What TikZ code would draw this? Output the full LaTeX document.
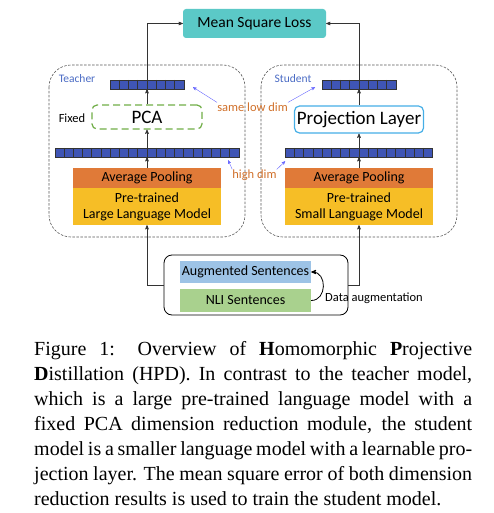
\documentclass[tikz,border=0pt]{standalone}
\usepackage{fontspec}
\setmainfont{Liberation Serif}
\newfontfamily\diagfont{Carlito}
\usetikzlibrary{arrows}

\definecolor{losscol}{HTML}{5BC9C7}
\definecolor{poolcol}{HTML}{E07A38}
\definecolor{lmcol}{HTML}{F6BE26}
\definecolor{augcol}{HTML}{9DC3E6}
\definecolor{nlicol}{HTML}{A9D18E}
\definecolor{pcacol}{HTML}{70AD47}
\definecolor{projcol}{HTML}{45AEE6}
\definecolor{rolecol}{HTML}{4A6BC4}
\definecolor{dimcol}{HTML}{D0702A}
\definecolor{cellcol}{HTML}{3F55B5}

\begin{document}
\begin{tikzpicture}[
    x = 1pt, y = -1pt,
    >=stealth',
    every node/.style = {inner sep = 0pt, font = \diagfont},
    block/.style = {minimum width = 148pt, align = center, font = \diagfont\fontsize{14}{16}\selectfont},
    vecbox/.style = {draw = black!80, fill = cellcol, minimum height = 9pt},
    container/.style = {draw = black!65, semithick, dash pattern = on 2.5pt off 1.5pt, rounded corners = 22pt},
    link/.style = {->, semithick, black!80},
    note/.style = {->, blue!60, thin},
    dimtext/.style = {text = dimcol, font = \diagfont\fontsize{12.5}{14}\selectfont}]

\useasboundingbox (0,0) rectangle (494,513);

\draw[container] (49,65) rectangle (245,237);
\draw[container] (261,65) rectangle (457,237);

\node[text = rolecol, font = \diagfont\fontsize{11.5}{13}\selectfont] (teacher) at (77,79) {Teacher};
\node[text = rolecol, font = \diagfont\fontsize{11.5}{13}\selectfont] (student) at (293,79) {Student};

\node[fill = losscol, rounded corners = 3pt, minimum width = 143pt, minimum height = 29pt,
      font = \diagfont\fontsize{15.5}{18}\selectfont] (loss) at (254.5,23.5) {Mean Square Loss};

% Vectors
\node[vecbox, minimum width = 73.6pt] (tlow) at (147,84.5) {};
\node[vecbox, minimum width = 73.6pt] (slow) at (359,84.5) {};
\node[vecbox, minimum width = 184pt] (thigh) at (147,152.5) {};
\node[vecbox, minimum width = 147.2pt] (shigh) at (359,152.5) {};

\foreach \i in {1,...,7} {
  \draw[black!80] ([xshift = \i*9.2pt]tlow.north west) -- ([xshift = \i*9.2pt]tlow.south west);
  \draw[black!80] ([xshift = \i*9.2pt]slow.north west) -- ([xshift = \i*9.2pt]slow.south west);
}
\foreach \i in {1,...,19}
  \draw[black!80] ([xshift = \i*9.2pt]thigh.north west) -- ([xshift = \i*9.2pt]thigh.south west);
\foreach \i in {1,...,15}
  \draw[black!80] ([xshift = \i*9.2pt]shigh.north west) -- ([xshift = \i*9.2pt]shigh.south west);

% Reduction modules
\node[draw = pcacol, very thick, dashed, dash pattern = on 7pt off 4pt, rounded corners = 5pt,
      minimum width = 110pt, minimum height = 24pt,
      font = \diagfont\fontsize{19}{22}\selectfont] (pca) at (147,117) {PCA};
\node[font = \diagfont\fontsize{12.5}{14}\selectfont] (fixed) at (72,118) {Fixed};
\node[draw = projcol, very thick, rounded corners = 5pt, minimum width = 129pt, minimum height = 27pt,
      font = \diagfont\fontsize{19}{22}\selectfont] (proj) at (359,119.5) {Projection Layer};

% Encoders
\node[block, fill = poolcol, minimum height = 20pt] (tpool) at (147,178) {Average Pooling};
\node[block, fill = lmcol, minimum height = 37pt] (tlm) at (147,206.5) {Pre-trained\\Large Language Model};
\node[block, fill = poolcol, minimum height = 20pt] (spool) at (359,178) {Average Pooling};
\node[block, fill = lmcol, minimum height = 37pt] (slm) at (359,206.5) {Pre-trained\\Small Language Model};

% Input data
\node[draw, thick, rounded corners = 8pt, minimum width = 184pt, minimum height = 60pt] (data) at (256,285) {};
\node[block, fill = augcol, minimum width = 131pt, minimum height = 22pt] (aug) at (245.5,272) {Augmented Sentences};
\node[block, fill = nlicol, minimum width = 131pt, minimum height = 23pt] (nli) at (245.5,300.5) {NLI Sentences};
\node[font = \diagfont\fontsize{12.5}{14}\selectfont, anchor = west] (dataaug) at (325,298) {Data augmentation};

\draw[->, thick] (nli.east) .. controls +(16,0) and +(16,0) .. (aug.east);

% Flow
\draw[link] (data.west) -| (tlm.south);
\draw[link] (data.east) -| (slm.south);
\draw[link] (tpool.north) -- (thigh.south);
\draw[link] (spool.north) -- (shigh.south);
\draw[link] (thigh.north) -- (pca.south);
\draw[link] (shigh.north) -- (proj.south);
\draw[link] (pca.north) -- (tlow.south);
\draw[link] (proj.north) -- (slow.south);
\draw[link] (tlow.north) |- (loss.west);
\draw[link] (slow.north) |- (loss.east);

% Dimension notes
\node[dimtext] (lowdim) at (252.5,107) {same low dim};
\node[dimtext] (highdim) at (254.5,175) {high dim};
\draw[note] (lowdim.north west) -- ([xshift = 9pt, yshift = 2pt]tlow.south east);
\draw[note] (lowdim.north east) -- ([xshift = -7pt, yshift = 2pt]slow.south west);
\draw[note] (highdim.north west) -- ([xshift = -11pt, yshift = -3pt]thigh.south east);
\draw[note] (highdim.north east) -- ([xshift = 0pt, yshift = -4pt]shigh.south west);

% Caption
\node[anchor = north west, text width = 438pt, align = justify,
      font = \rmfamily\fontsize{20}{25}\selectfont] (caption) at (34,341.5)
  {Figure 1: Overview of \textbf{H}omomorphic \textbf{P}rojective\linebreak
   \textbf{D}istillation (HPD). In contrast to the teacher model,\linebreak
   which is a large pre-trained language model with a\linebreak
   fixed PCA dimension reduction module, the student\linebreak
   model is a smaller language model with a learnable pro-\linebreak
   jection layer. The mean square error of both dimension\linebreak
   reduction results is used to train the student model.};

\end{tikzpicture}
\end{document}
